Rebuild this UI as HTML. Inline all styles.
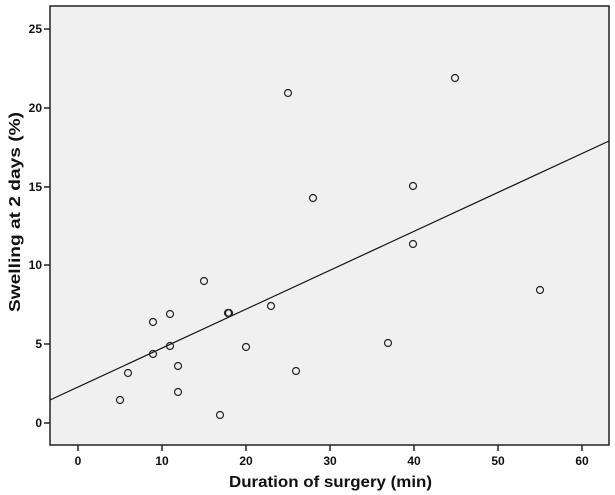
<!DOCTYPE html>
<html><head><style>body{margin:0;background:#fff}svg{display:block}</style></head><body>
<svg width="615" height="495" xmlns="http://www.w3.org/2000/svg" font-family="Liberation Sans, sans-serif">
<rect x="50" y="6" width="559" height="439" fill="#f0f0f0" stroke="#222" stroke-width="1.5"/>
<g stroke="#222" stroke-width="1.5">
<line x1="44" y1="423" x2="50" y2="423"/><line x1="44" y1="344" x2="50" y2="344"/><line x1="44" y1="265" x2="50" y2="265"/><line x1="44" y1="187" x2="50" y2="187"/><line x1="44" y1="108" x2="50" y2="108"/><line x1="44" y1="29" x2="50" y2="29"/>
<line x1="78" y1="445" x2="78" y2="451"/><line x1="162" y1="445" x2="162" y2="451"/><line x1="246" y1="445" x2="246" y2="451"/><line x1="330" y1="445" x2="330" y2="451"/><line x1="414" y1="445" x2="414" y2="451"/><line x1="498" y1="445" x2="498" y2="451"/><line x1="582" y1="445" x2="582" y2="451"/>
</g>
<g font-size="12" font-weight="bold" text-anchor="end" fill="#111">
<text x="42" y="427">0</text><text x="42" y="348">5</text><text x="42" y="269">10</text><text x="42" y="191">15</text><text x="42" y="112">20</text><text x="42" y="33">25</text>
</g>
<g font-size="12" font-weight="bold" text-anchor="middle" fill="#111">
<text x="78" y="465">0</text><text x="162" y="465">10</text><text x="246" y="465">20</text><text x="330" y="465">30</text><text x="414" y="465">40</text><text x="498" y="465">50</text><text x="582" y="465">60</text>
</g>
<text x="229" y="487" font-size="16" font-weight="bold" fill="#111" textLength="203" lengthAdjust="spacingAndGlyphs">Duration of surgery (min)</text>
<text transform="translate(20,312) rotate(-90)" font-size="16" font-weight="bold" fill="#111" textLength="200" lengthAdjust="spacingAndGlyphs">Swelling at 2 days (%)</text>
<line x1="50" y1="400" x2="609" y2="141" stroke="#111" stroke-width="1.2"/>
<g fill="none" stroke="#222" stroke-width="1.2">
<circle cx="120" cy="400" r="3.5"/><circle cx="128" cy="373" r="3.5"/><circle cx="153" cy="322" r="3.5"/><circle cx="153" cy="354" r="3.5"/><circle cx="170" cy="314" r="3.5"/><circle cx="170" cy="346" r="3.5"/><circle cx="178" cy="366" r="3.5"/><circle cx="178" cy="392" r="3.5"/><circle cx="204" cy="281" r="3.5"/><circle cx="228" cy="313" r="3.5"/><circle cx="229" cy="313" r="3.5"/><circle cx="220" cy="415" r="3.5"/><circle cx="246" cy="347" r="3.5"/><circle cx="271" cy="306" r="3.5"/><circle cx="288" cy="93" r="3.5"/><circle cx="296" cy="371" r="3.5"/><circle cx="313" cy="198" r="3.5"/><circle cx="388" cy="343" r="3.5"/><circle cx="413" cy="186" r="3.5"/><circle cx="413" cy="244" r="3.5"/><circle cx="455" cy="78" r="3.5"/><circle cx="540" cy="290" r="3.5"/>
</g>
</svg>
</body></html>
